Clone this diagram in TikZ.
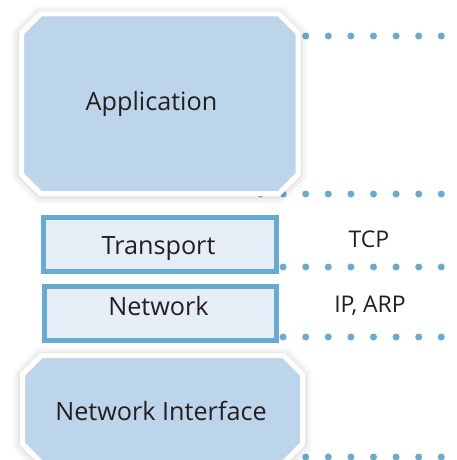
\documentclass[tikz,border=0pt]{standalone}
\usepackage{fontspec}
\setmainfont{Open Sans}
\usetikzlibrary{shadows.blur}

\definecolor{layerfill}{HTML}{BDD5EA}
\definecolor{boxfill}{HTML}{E5EDF6}
\definecolor{boxline}{HTML}{66ABD3}
\definecolor{dotblue}{HTML}{68AAD3}
\definecolor{ink}{HTML}{231F20}

\tikzset{
  layerlabel/.style={inner sep=0pt, anchor=base, text=ink, font=\fontsize{25.2}{28}\selectfont},
  protolabel/.style={inner sep=0pt, anchor=base, text=ink, font=\fontsize{23}{26}\selectfont},
  octlayer/.style={fill=layerfill, draw=white, line width=5pt, line join=miter,
    blur shadow={shadow xshift=0pt, shadow yshift=-1pt, shadow blur radius=10pt, shadow opacity=30}},
  thinlayer/.style={fill=boxfill, draw=boxline, line width=5pt},
  dotrow/.style={draw=dotblue, line width=7pt, line cap=round, dash pattern=on 0pt off 22.6pt}
}

\begin{document}
\begin{tikzpicture}[x=1pt, y=-1pt]
  \useasboundingbox (0,0) rectangle (457,460);

  % dotted separators between the protocol rows
  \coordinate (r1a) at (305.7,36);  \coordinate (r1b) at (441.4,36);
  \coordinate (r2a) at (260.5,194); \coordinate (r2b) at (441.4,194);
  \coordinate (r3a) at (283.1,267); \coordinate (r3b) at (441.4,267);
  \coordinate (r4a) at (283.1,337); \coordinate (r4b) at (441.4,337);
  \coordinate (r5a) at (305.7,457); \coordinate (r5b) at (441.4,457);
  \draw[dotrow] (r1a) -- (r1b);
  \draw[dotrow] (r2a) -- (r2b);
  \draw[dotrow] (r3a) -- (r3b);
  \draw[dotrow] (r4a) -- (r4b);
  \draw[dotrow] (r5a) -- (r5b);

  % application layer (chamfered block)
  \path[octlayer] (40.5,14) -- (279,14) -- (298,33) -- (298,174.5) -- (279,193.5)
    -- (40.5,193.5) -- (21.5,174.5) -- (21.5,33) -- cycle;

  % network interface layer (runs off the bottom edge)
  \path[octlayer] (41.5,355.5) -- (283.5,355.5) -- (302.5,374.5) -- (302.5,444)
    -- (283.5,463) -- (41.5,463) -- (22.5,444) -- (22.5,374.5) -- cycle;

  % transport and network layers
  \path[thinlayer] (43.5,217.5) rectangle (276.5,271.5);
  \path[thinlayer] (44.5,286) rectangle (276.5,340);

  % labels
  \node[layerlabel] (app) at (151.5,110) {Application};
  \node[layerlabel] (trans) at (158.5,254) {Transport};
  \node[layerlabel] (net) at (158.5,315) {Network};
  \node[layerlabel] (netif) at (161,420) {Network Interface};
  \node[protolabel] (tcp) at (369,247) {TCP};
  \node[protolabel] (ip) at (370,312) {IP, ARP};
\end{tikzpicture}
\end{document}
